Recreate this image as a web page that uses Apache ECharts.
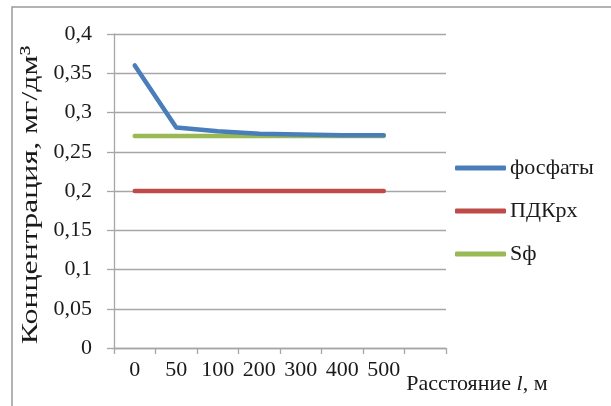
<!DOCTYPE html>
<html>
<head>
<meta charset="utf-8">
<script src="https://cdn.jsdelivr.net/npm/echarts@6/dist/echarts.min.js"></script>
<style>
  html, body { margin: 0; padding: 0; background: #fff; }
  #chart { width: 611px; height: 406px; }
</style>
</head>
<body>
<div id="chart"></div>
<script>
// Distance categories along the river (last slot is left empty)
const distances = ['0', '50', '100', '200', '300', '400', '500', ''];
// Phosphate concentration, mg/dm3
const phosphates = [0.36, 0.281, 0.276, 0.273, 0.272, 0.271, 0.271, null];
// Maximum permissible concentration for fishery waters
const pdkRh = [0.2, 0.2, 0.2, 0.2, 0.2, 0.2, 0.2, null];
// Background concentration
const sBackground = [0.27, 0.27, 0.27, 0.27, 0.27, 0.27, 0.27, null];
// Value-axis ticks
const yTicks = [0, 0.05, 0.1, 0.15, 0.2, 0.25, 0.3, 0.35, 0.4];

const FONT = '"Liberation Serif", "Times New Roman", serif';
const TEXT = '#1a1a1a';
const GRID = '#a6a6a6';

const chart = echarts.init(document.getElementById('chart'), null, { renderer: 'canvas' });

chart.setOption({
  animation: false,
  textStyle: { fontFamily: FONT, color: TEXT },
  graphic: [
    // frame of the chart area (top and left edges)
    { type: 'polyline', silent: true,
      shape: { points: [[12, 406], [12, 7], [611, 7]] },
      style: { stroke: '#9a9a9a', lineWidth: 1.5, fill: null } },
    // value-axis title, set in a slightly widened serif
    { type: 'text', silent: true,
      x: 31, y: 195, rotation: Math.PI / 2, scaleX: 1.33,
      style: {
        text: 'Концентрация, мг/дм³',
        fontFamily: FONT, fontSize: 24, fontWeight: 'normal', fill: TEXT,
        align: 'center', verticalAlign: 'middle'
      } }
  ],
  grid: { left: 114, right: 165, top: 34, bottom: 58, containLabel: false },
  legend: {
    orient: 'vertical',
    left: 455,
    top: 157,
    padding: 0,
    itemWidth: 51,
    itemHeight: 5,
    itemGap: 21,
    icon: 'roundRect',
    textStyle: { fontFamily: FONT, fontSize: 22, lineHeight: 22, color: TEXT, padding: [0, 0, 0, -1] },
    data: ['фосфаты', 'ПДКрх', 'Sф']
  },
  xAxis: {
    type: 'category',
    data: distances,
    boundaryGap: true,
    name: 'Расстояние {i|l}, м',
    nameLocation: 'end',
    nameGap: -41,
    nameTextStyle: {
      fontFamily: FONT, fontSize: 22, color: TEXT,
      align: 'left', verticalAlign: 'top', padding: [25, 0, 0, 0],
      rich: { i: { fontFamily: FONT, fontSize: 22, fontStyle: 'italic', color: TEXT } }
    },
    axisLine: { lineStyle: { color: GRID, width: 1.3 } },
    axisTick: { show: true, length: 6, alignWithLabel: false, lineStyle: { color: GRID, width: 1.3 } },
    axisLabel: { fontFamily: FONT, fontSize: 22, color: TEXT, margin: 11, interval: 0 },
    splitLine: { show: false }
  },
  yAxis: {
    type: 'value',
    min: yTicks[0],
    max: yTicks[yTicks.length - 1],
    interval: 0.05,
    axisLine: { show: true, lineStyle: { color: GRID, width: 1.3 } },
    axisTick: { show: true, inside: false, length: 7, lineStyle: { color: GRID, width: 1.3 } },
    axisLabel: {
      fontFamily: FONT, fontSize: 22, color: TEXT, margin: 22,
      formatter: v => String(+v.toFixed(2)).replace('.', ',')
    },
    splitLine: { show: true, lineStyle: { color: GRID, width: 1.3 } }
  },
  series: [
    { name: 'фосфаты', type: 'line', data: phosphates, symbol: 'none',
      lineStyle: { color: '#4a7ebb', width: 4.5, cap: 'round', join: 'round' },
      itemStyle: { color: '#4a7ebb' }, z: 4 },
    { name: 'ПДКрх', type: 'line', data: pdkRh, symbol: 'none',
      lineStyle: { color: '#be4b48', width: 4.5, cap: 'round' },
      itemStyle: { color: '#be4b48' }, z: 3 },
    { name: 'Sф', type: 'line', data: sBackground, symbol: 'none',
      lineStyle: { color: '#98b954', width: 4.5, cap: 'round' },
      itemStyle: { color: '#98b954' }, z: 3 }
  ]
});
</script>
</body>
</html>
